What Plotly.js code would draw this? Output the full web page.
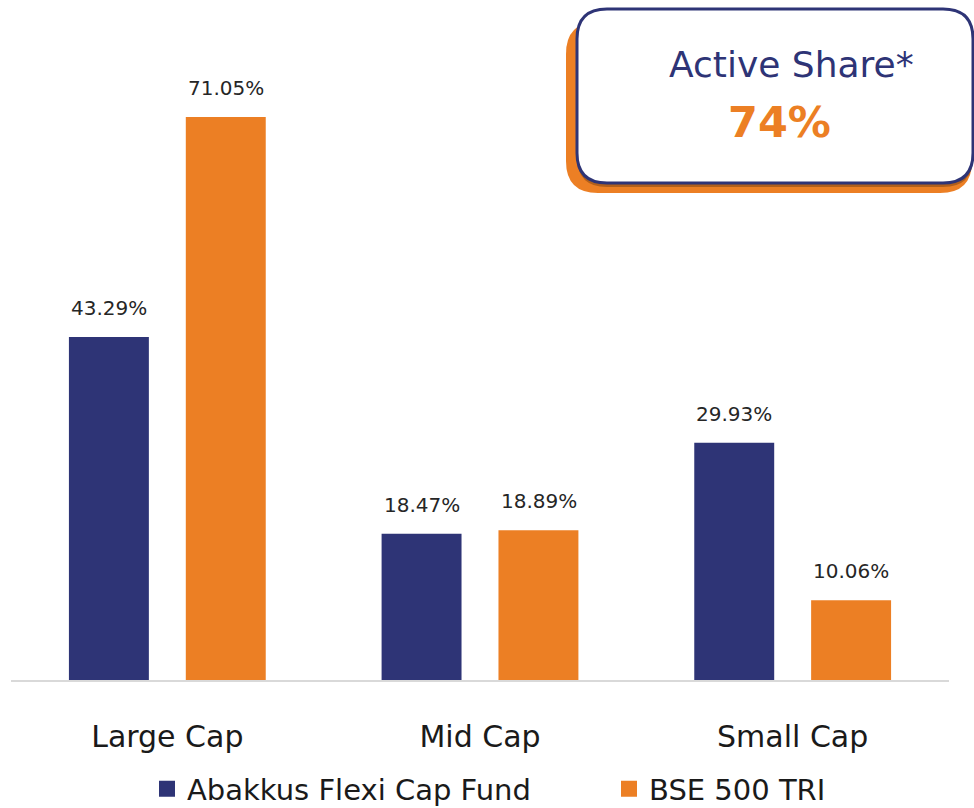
<!DOCTYPE html>
<html><head><meta charset="utf-8">
<script src="https://cdn.plot.ly/plotly-3.0.1.min.js"></script>
<style>html,body{margin:0;padding:0;background:#fff;}#chart{width:974px;height:808px;}</style>
</head><body><div id="chart"></div>
<script>
const categories = ["Large Cap", "Mid Cap", "Small Cap"];
const fundName = "Abakkus Flexi Cap Fund";
const benchName = "BSE 500 TRI";
const fundValues = [43.29, 18.47, 29.93];
const benchValues = [71.05, 18.89, 10.06];
const activeShareLabel = "Active Share*";
const activeShareValue = "74%";

const NAVY = "#2E3476";
const ORANGE = "#EC7F24";
const FONT = "'DejaVu Sans', sans-serif";

const W = 974, H = 808, ML = 11, MR = 25, MT = 46, MB = 128;
const PW = W - ML - MR, PH = H - MT - MB;
const px = x => (x - ML) / PW;
const py = y => (H - MB - y) / PH;
function rr(x0, y0, x1, y1, r) {
  const P = (x, y) => px(x) + "," + py(y);
  return "M" + P(x0 + r, y0) + " L" + P(x1 - r, y0) + " Q" + P(x1, y0) + " " + P(x1, y0 + r) +
    " L" + P(x1, y1 - r) + " Q" + P(x1, y1) + " " + P(x1 - r, y1) +
    " L" + P(x0 + r, y1) + " Q" + P(x0, y1) + " " + P(x0, y1 - r) +
    " L" + P(x0, y0 + r) + " Q" + P(x0, y0) + " " + P(x0 + r, y0) + " Z";
}

const traces = [
  {type: "bar", x: categories, y: fundValues, name: fundName, marker: {color: NAVY}, showlegend: false, hoverinfo: "skip"},
  {type: "bar", x: categories, y: benchValues, name: benchName, marker: {color: ORANGE}, showlegend: false, hoverinfo: "skip"},
  {type: "scatter", mode: "markers", x: [null], y: [null], name: fundName, marker: {symbol: "square", size: 16, color: NAVY}},
  {type: "scatter", mode: "markers", x: [null], y: [null], name: benchName, marker: {symbol: "square", size: 16, color: ORANGE}}
];

const labelAnn = [];
[[fundValues, -58.5], [benchValues, 58.5]].forEach(([vals, shift]) => {
  vals.forEach((v, i) => labelAnn.push({
    xref: "x", yref: "y", x: categories[i], y: v, xshift: shift, yshift: 29,
    text: v.toFixed(2) + "%", showarrow: false, yanchor: "middle",
    font: {family: FONT, size: 20, color: "#262626"}
  }));
});

const layout = {
  width: W, height: H,
  margin: {l: ML, r: MR, t: MT, b: MB, pad: 0, autoexpand: false},
  paper_bgcolor: "#fff", plot_bgcolor: "#fff",
  barmode: "group", bargap: 0.2524, bargroupgap: 0.316,
  xaxis: {
    type: "category", range: [-0.5, 2.5], showline: true, linecolor: "#d9d9d9", linewidth: 2,
    ticks: "outside", ticklen: 29, tickcolor: "rgba(0,0,0,0)", showgrid: false, zeroline: false,
    tickfont: {family: FONT, size: 30, color: "#1a1a1a"}, fixedrange: true, automargin: false
  },
  yaxis: {range: [0, 80], visible: false, showgrid: false, zeroline: false, fixedrange: true},
  showlegend: true,
  legend: {
    orientation: "h", x: px(147), xanchor: "left", y: py(789), yanchor: "middle",
    font: {family: FONT, size: 29, color: "#1a1a1a"}, entrywidth: 417, entrywidthmode: "pixels",
    itemclick: false, itemdoubleclick: false
  },
  shapes: [
    {type: "path", xref: "paper", yref: "paper", path: rr(566, 22, 972, 193, 32), fillcolor: ORANGE, line: {width: 0}},
    {type: "path", xref: "paper", yref: "paper", path: rr(577, 12, 973, 187, 30), fillcolor: "rgba(0,0,0,0.25)", line: {width: 0}},
    {type: "path", xref: "paper", yref: "paper", path: rr(577, 9, 973, 183, 30), fillcolor: "#fff", line: {color: NAVY, width: 3}}
  ],
  annotations: labelAnn.concat([
    {xref: "paper", yref: "paper", x: px(791), y: py(64), text: activeShareLabel, showarrow: false,
     xanchor: "center", yanchor: "middle", font: {family: FONT, size: 36, color: NAVY}},
    {xref: "paper", yref: "paper", x: px(779), y: py(122), text: "<b>" + activeShareValue + "</b>", showarrow: false,
     xanchor: "center", yanchor: "middle", font: {family: FONT, size: 43, color: ORANGE}}
  ])
};

Plotly.newPlot("chart", traces, layout, {displayModeBar: false, staticPlot: true});
</script>
</body></html>
